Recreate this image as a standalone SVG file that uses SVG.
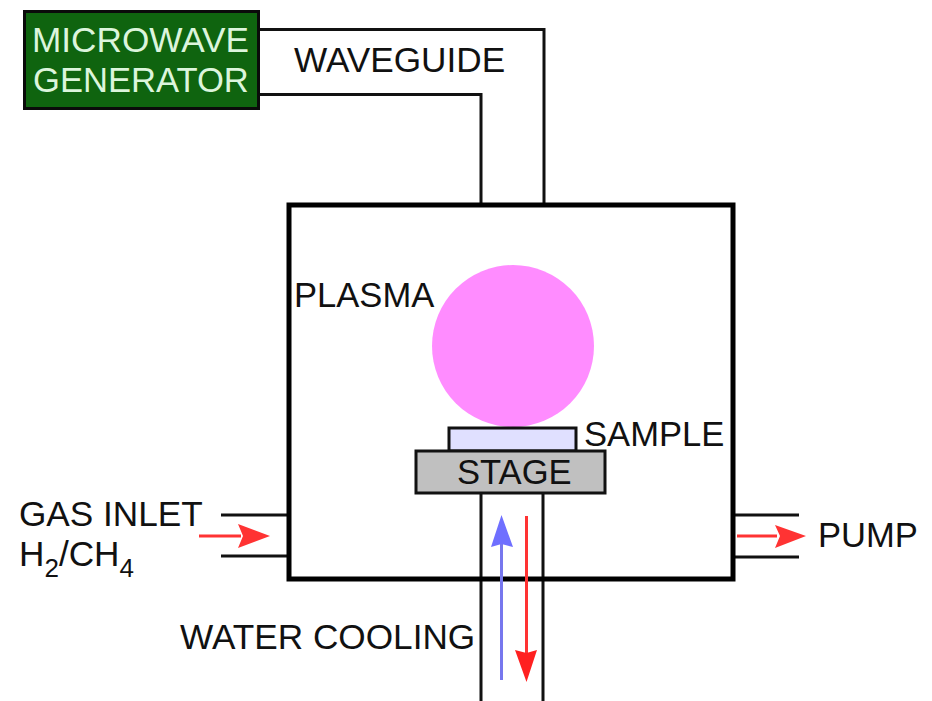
<svg xmlns="http://www.w3.org/2000/svg" width="932" height="701" viewBox="0 0 932 701">
<style>
text{font-family:"Liberation Sans",Arial,sans-serif;font-size:35.200px;fill:#111}
.s{font-size:34.600px}
.w{fill:none;stroke:#111;stroke-width:3}
.b{stroke:#111;stroke-width:3}
.sub{font-size:26px}
.lt{fill:#dcf5dc}
</style>
<rect width="932" height="701" fill="#fff"/>
<g id="connectors">
<path class="w" d="M259 29.500H544V204M259 94.500H481V204"/>
<path class="w" d="M221 515H288M221 556H288M734 515H799M734 557H799"/>
<path class="w" d="M481 493V701M543 493V701"/>
<path d="M199 536H241" stroke="#ff3333" stroke-width="3" fill="none"/>
<path d="M238 524L270 536L238 548L243 536Z" fill="#ff3333"/>
<path d="M737 536H777" stroke="#ff3333" stroke-width="3" fill="none"/>
<path d="M775 525L806 536L775 548L780 536Z" fill="#ff3333"/>
</g>
<g id="chamber"><rect x="289" y="205" width="444" height="374" fill="none" stroke="#000" stroke-width="5"/></g>
<g id="cooling-arrows">
<path d="M501.500 680V540" stroke="#7777ee" stroke-width="3" fill="none"/>
<path d="M501.500 515L513 547L501.500 544L491 547Z" fill="#6f6fff"/>
<path d="M526.500 516V655" stroke="#ff3333" stroke-width="3" fill="none"/>
<path d="M515 650L526.500 682L537 650L526.500 653Z" fill="#ff2020"/>
</g>
<g id="plasma"><circle cx="513" cy="346" r="81" fill="#ff8cff"/><text x="294" y="307" class="s">PLASMA</text></g>
<g id="sample"><rect x="449" y="428" width="127" height="23" fill="#e0e0ff" class="b"/><text x="584" y="446" class="s">SAMPLE</text></g>
<g id="stage"><rect x="416" y="451" width="189" height="42" fill="#c0c0c0" class="b"/><text x="457" y="484" class="s">STAGE</text></g>
<g id="generator"><rect x="24.500" y="11.500" width="234" height="97" fill="#0f640f" stroke="#0a0a0a" stroke-width="3"/>
<text x="32" y="52" class="lt">MICROWAVE</text><text x="33" y="92" class="lt s">GENERATOR</text></g>
<g id="waveguide"><text x="294" y="72">WAVEGUIDE</text></g>
<g id="gas-inlet"><text x="19" y="526">GAS INLET</text><text x="19" y="566">H<tspan class="sub" dy="11">2</tspan><tspan dy="-11">/CH</tspan><tspan class="sub" dy="11">4</tspan></text></g>
<g id="pump"><text x="818" y="547" class="s">PUMP</text></g>
<g id="water"><text x="180" y="649">WATER COOLING</text></g>
</svg>
